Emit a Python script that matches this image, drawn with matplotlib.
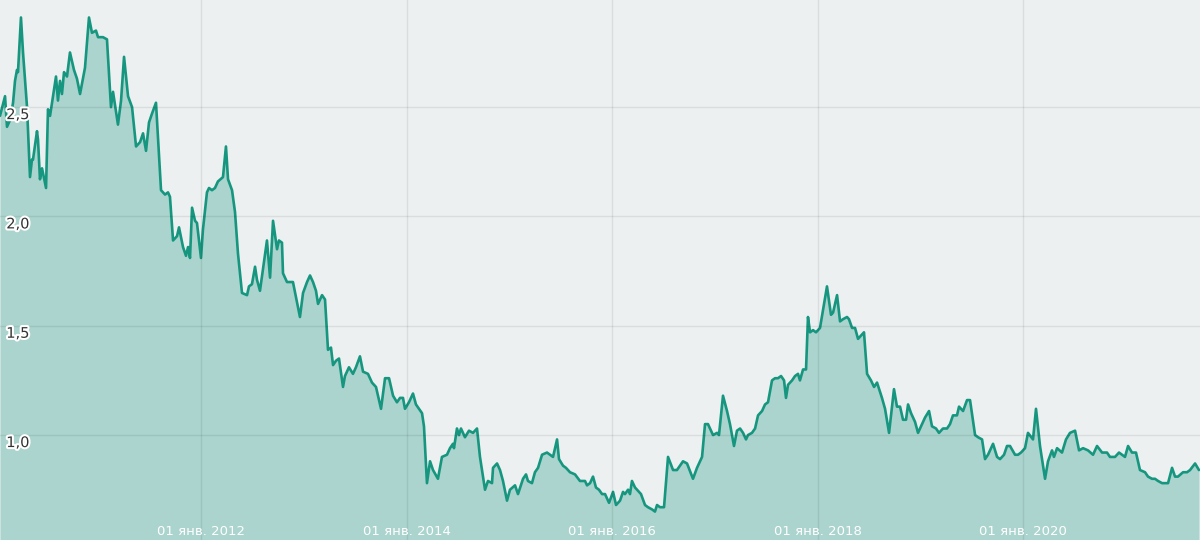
import numpy as np
import matplotlib as mpl
mpl.use("Agg")
import matplotlib.pyplot as plt
import matplotlib.patheffects as pe

# Series (time in decimal years, value)
years = [
    2010.044, 2010.093, 2010.112, 2010.141, 2010.171, 2010.190, 2010.209, 2010.219,
    2010.248, 2010.268, 2010.307, 2010.336, 2010.355, 2010.365, 2010.404, 2010.414,
    2010.433, 2010.453, 2010.492, 2010.511, 2010.531, 2010.560, 2010.589, 2010.608,
    2010.628, 2010.647, 2010.667, 2010.696, 2010.725, 2010.764, 2010.793, 2010.823,
    2010.871, 2010.910, 2010.939, 2010.978, 2010.998, 2011.046, 2011.085, 2011.124,
    2011.144, 2011.192, 2011.222, 2011.251, 2011.290, 2011.329, 2011.368, 2011.407,
    2011.436, 2011.465, 2011.494, 2011.523, 2011.562, 2011.611, 2011.650, 2011.679,
    2011.698, 2011.728, 2011.767, 2011.786, 2011.825, 2011.854, 2011.874, 2011.893,
    2011.913, 2011.942, 2011.961, 2012.000, 2012.019, 2012.058, 2012.078, 2012.107,
    2012.136, 2012.165, 2012.214, 2012.243, 2012.263, 2012.302, 2012.331, 2012.360,
    2012.399, 2012.448, 2012.467, 2012.496, 2012.526, 2012.545, 2012.574, 2012.613,
    2012.642, 2012.672, 2012.701, 2012.740, 2012.759, 2012.788, 2012.798, 2012.837,
    2012.866, 2012.895, 2012.925, 2012.963, 2012.993, 2013.032, 2013.061, 2013.090,
    2013.119, 2013.139, 2013.178, 2013.207, 2013.236, 2013.265, 2013.285, 2013.314,
    2013.343, 2013.382, 2013.401, 2013.440, 2013.479, 2013.508, 2013.547, 2013.577,
    2013.625, 2013.664, 2013.703, 2013.752, 2013.791, 2013.830, 2013.869, 2013.907,
    2013.937, 2013.966, 2013.985, 2014.024, 2014.063, 2014.092, 2014.151, 2014.170,
    2014.199, 2014.229, 2014.258, 2014.306, 2014.345, 2014.394, 2014.423, 2014.452,
    2014.462, 2014.491, 2014.511, 2014.530, 2014.569, 2014.608, 2014.647, 2014.686,
    2014.715, 2014.764, 2014.793, 2014.832, 2014.842, 2014.881, 2014.910, 2014.939,
    2014.978, 2015.007, 2015.056, 2015.085, 2015.134, 2015.163, 2015.182, 2015.221,
    2015.250, 2015.280, 2015.319, 2015.367, 2015.396, 2015.426, 2015.465, 2015.484,
    2015.523, 2015.552, 2015.591, 2015.640, 2015.688, 2015.737, 2015.757, 2015.786,
    2015.815, 2015.844, 2015.873, 2015.903, 2015.932, 2015.971, 2016.010, 2016.039,
    2016.078, 2016.107, 2016.126, 2016.156, 2016.175, 2016.194, 2016.224, 2016.243,
    2016.282, 2016.321, 2016.350, 2016.389, 2016.418, 2016.438, 2016.467, 2016.506,
    2016.545, 2016.594, 2016.632, 2016.691, 2016.730, 2016.788, 2016.827, 2016.876,
    2016.905, 2016.934, 2016.983, 2017.022, 2017.041, 2017.080, 2017.119, 2017.148,
    2017.187, 2017.216, 2017.246, 2017.275, 2017.304, 2017.323, 2017.362, 2017.392,
    2017.421, 2017.460, 2017.489, 2017.518, 2017.557, 2017.586, 2017.615, 2017.645,
    2017.674, 2017.693, 2017.713, 2017.752, 2017.781, 2017.810, 2017.829, 2017.859,
    2017.888, 2017.907, 2017.927, 2017.956, 2017.985, 2018.024, 2018.053, 2018.092,
    2018.131, 2018.151, 2018.190, 2018.219, 2018.248, 2018.287, 2018.306, 2018.336,
    2018.365, 2018.394, 2018.452, 2018.482, 2018.520, 2018.550, 2018.579, 2018.627,
    2018.657, 2018.696, 2018.744, 2018.773, 2018.803, 2018.832, 2018.861, 2018.881,
    2018.910, 2018.949, 2018.978, 2019.017, 2019.046, 2019.085, 2019.114, 2019.153,
    2019.182, 2019.221, 2019.260, 2019.289, 2019.318, 2019.357, 2019.377, 2019.416,
    2019.455, 2019.484, 2019.533, 2019.562, 2019.601, 2019.630, 2019.659, 2019.708,
    2019.747, 2019.776, 2019.815, 2019.844, 2019.873, 2019.922, 2019.951, 2019.980,
    2020.019, 2020.048, 2020.097, 2020.126, 2020.165, 2020.214, 2020.243, 2020.282,
    2020.301, 2020.331, 2020.379, 2020.418, 2020.457, 2020.506, 2020.545, 2020.584,
    2020.632, 2020.681, 2020.720, 2020.769, 2020.817, 2020.846, 2020.895, 2020.934,
    2020.992, 2021.022, 2021.060, 2021.099, 2021.138, 2021.187, 2021.216, 2021.255,
    2021.284, 2021.314, 2021.353, 2021.411, 2021.450, 2021.479, 2021.508, 2021.557,
    2021.596, 2021.625, 2021.674, 2021.712,
]

values = [
    2.46, 2.55, 2.41, 2.44, 2.52, 2.62, 2.67, 2.66,
    2.91, 2.75, 2.50, 2.18, 2.26, 2.26, 2.39, 2.35,
    2.17, 2.22, 2.13, 2.49, 2.46, 2.55, 2.64, 2.53,
    2.62, 2.56, 2.66, 2.64, 2.75, 2.67, 2.63, 2.56,
    2.68, 2.91, 2.84, 2.85, 2.82, 2.82, 2.81, 2.50,
    2.57, 2.42, 2.53, 2.73, 2.55, 2.50, 2.32, 2.34,
    2.38, 2.30, 2.43, 2.47, 2.52, 2.12, 2.10, 2.11,
    2.09, 1.89, 1.91, 1.95, 1.86, 1.82, 1.86, 1.81,
    2.04, 1.98, 1.97, 1.81, 1.94, 2.11, 2.13, 2.12,
    2.13, 2.16, 2.18, 2.32, 2.17, 2.12, 2.02, 1.83,
    1.65, 1.64, 1.68, 1.69, 1.77, 1.71, 1.66, 1.79,
    1.89, 1.72, 1.98, 1.85, 1.89, 1.88, 1.74, 1.70,
    1.70, 1.70, 1.63, 1.54, 1.65, 1.70, 1.73, 1.70,
    1.66, 1.60, 1.64, 1.62, 1.39, 1.40, 1.32, 1.34,
    1.35, 1.22, 1.27, 1.31, 1.28, 1.31, 1.36, 1.29,
    1.28, 1.24, 1.22, 1.12, 1.26, 1.26, 1.18, 1.15,
    1.17, 1.17, 1.12, 1.15, 1.19, 1.14, 1.10, 1.04,
    0.78, 0.88, 0.84, 0.80, 0.90, 0.91, 0.94, 0.96,
    0.94, 1.03, 1.00, 1.03, 0.99, 1.02, 1.01, 1.03,
    0.90, 0.75, 0.79, 0.78, 0.85, 0.87, 0.84, 0.79,
    0.70, 0.75, 0.77, 0.73, 0.80, 0.82, 0.79, 0.78,
    0.83, 0.85, 0.91, 0.92, 0.91, 0.90, 0.98, 0.89,
    0.86, 0.85, 0.83, 0.82, 0.79, 0.79, 0.77, 0.78,
    0.81, 0.76, 0.75, 0.73, 0.73, 0.69, 0.74, 0.68,
    0.70, 0.74, 0.73, 0.75, 0.73, 0.79, 0.76, 0.75,
    0.73, 0.68, 0.67, 0.66, 0.65, 0.68, 0.67, 0.67,
    0.90, 0.84, 0.84, 0.88, 0.87, 0.80, 0.85, 0.90,
    1.05, 1.05, 1.00, 1.01, 1.00, 1.18, 1.11, 1.05,
    0.95, 1.02, 1.03, 1.01, 0.98, 1.00, 1.01, 1.03,
    1.09, 1.11, 1.14, 1.15, 1.25, 1.26, 1.26, 1.27,
    1.25, 1.17, 1.23, 1.25, 1.27, 1.28, 1.25, 1.30,
    1.30, 1.54, 1.47, 1.48, 1.47, 1.49, 1.57, 1.68,
    1.55, 1.56, 1.64, 1.52, 1.53, 1.54, 1.53, 1.49,
    1.49, 1.44, 1.47, 1.28, 1.25, 1.22, 1.24, 1.17,
    1.12, 1.01, 1.21, 1.13, 1.13, 1.07, 1.07, 1.14,
    1.10, 1.06, 1.01, 1.05, 1.08, 1.11, 1.04, 1.03,
    1.01, 1.03, 1.03, 1.05, 1.09, 1.09, 1.13, 1.11,
    1.16, 1.16, 1.00, 0.99, 0.98, 0.89, 0.91, 0.96,
    0.90, 0.89, 0.91, 0.95, 0.95, 0.91, 0.91, 0.92,
    0.94, 1.01, 0.98, 1.12, 0.95, 0.80, 0.88, 0.93,
    0.90, 0.94, 0.92, 0.98, 1.01, 1.02, 0.93, 0.94,
    0.93, 0.91, 0.95, 0.92, 0.92, 0.90, 0.90, 0.92,
    0.90, 0.95, 0.92, 0.92, 0.84, 0.83, 0.81, 0.80,
    0.80, 0.79, 0.78, 0.78, 0.85, 0.81, 0.81, 0.83,
    0.83, 0.84, 0.87, 0.84,
]

tick_years = [2012, 2014, 2016, 2018, 2020]
tick_labels = ["01 янв. %d" % y for y in tick_years]
ytick_vals = [1.0, 1.5, 2.0, 2.5]
ytick_labels = ["1,0", "1,5", "2,0", "2,5"]

line_color = "#16967f"
bg_color = "#ecf0f1"

fig = plt.figure(figsize=(12, 5.4), dpi=100)
ax = fig.add_axes([0, 0, 1, 1])
ax.set_facecolor(bg_color)

x = np.array(years)
y = np.array(values)

ymin, ymax = 0.52, 2.99
ax.fill_between(x, y, ymin, color=line_color, alpha=0.3, lw=0, zorder=1)
ax.plot(x, y, color=line_color, lw=1.9, zorder=2.2,
        solid_joinstyle="round", solid_capstyle="round")

ax.set_xlim(2010.044, 2021.722)
ax.set_ylim(ymin, ymax)

# Grid on top of the fill, labels inside the plot area
ax.set_axisbelow(False)
ax.grid(True, color="black", alpha=0.08, lw=1)

ax.set_xticks(tick_years)
ax.set_xticklabels(tick_labels)
ax.set_yticks(ytick_vals)
ax.set_yticklabels(ytick_labels)

ax.tick_params(axis="x", length=0, pad=-3.8, labelsize=9.5, labelcolor="white")
ax.tick_params(axis="y", length=0, pad=-4.5, labelsize=10.5, labelcolor="#333333")
for lab in ax.get_xticklabels():
    lab.set_va("baseline")
for lab in ax.get_yticklabels():
    lab.set_ha("left")
    lab.set_va("top")
    lab.set_path_effects([pe.withStroke(linewidth=3, foreground="white")])

for s in ax.spines.values():
    s.set_visible(False)

fig.savefig("out.png", dpi=100)
